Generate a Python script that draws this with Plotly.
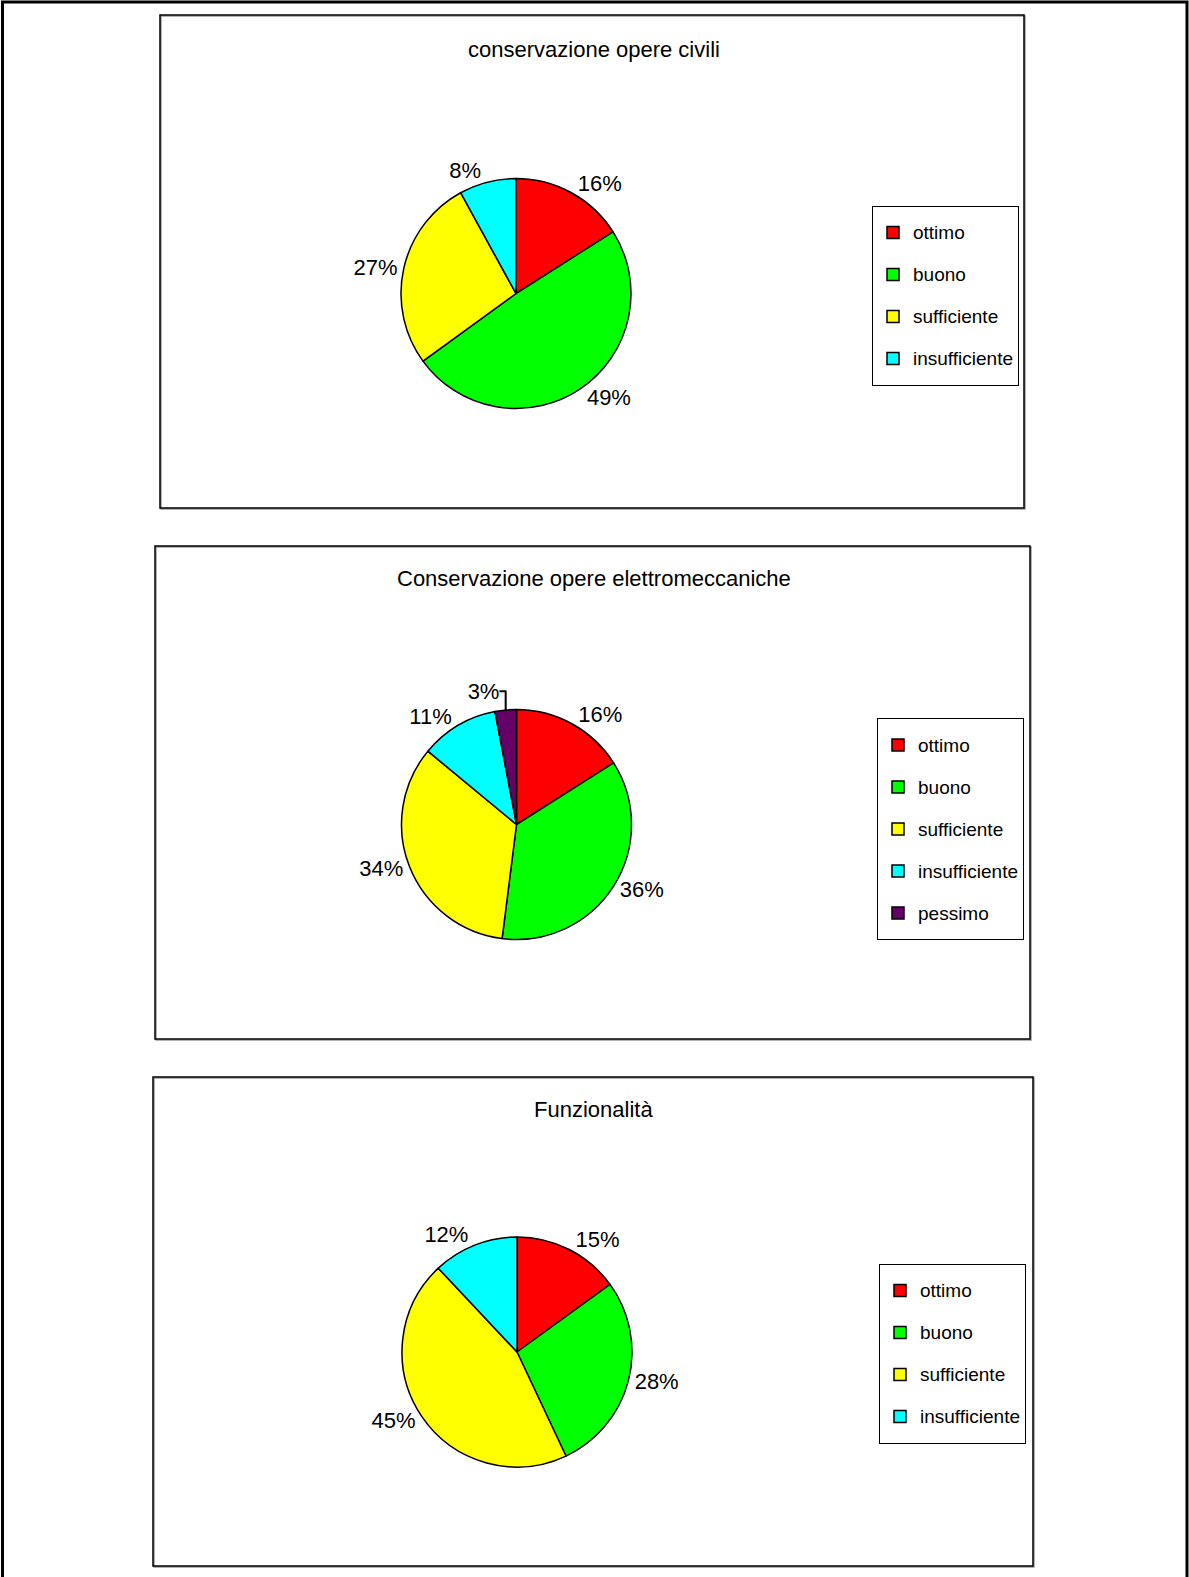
import plotly.graph_objects as go

W, H = 1189, 1577

categories_4 = ["ottimo", "buono", "sufficiente", "insufficiente"]
categories_5 = ["ottimo", "buono", "sufficiente", "insufficiente", "pessimo"]

civili_values = [16, 49, 27, 8]
elettro_values = [16, 36, 34, 11, 3]
funz_values = [15, 28, 45, 12]

titles = ["conservazione opere civili",
          "Conservazione opere elettromeccaniche",
          "Funzionalità"]

colors_5 = ["#FF0000", "#00FF00", "#FFFF00", "#00FFFF", "#660066"]

FONT = "Liberation Sans Narrow, Arial Narrow, Liberation Sans, Arial, sans-serif"


def px_x(x):
    return x / W


def px_y(y):
    return 1 - y / H


def legend_label(c):
    # smaller visible text inside a taller legend row (mimics the wide Excel spacing)
    return '<span style="font-size:19px;baseline-shift:5px">%s</span>' % c


# layout geometry (pixels)
boxes = [(160, 15, 1024, 508), (155, 546, 1030, 1039), (153, 1077, 1033, 1566)]
pie_centers = [(516, 293.5), (516.5, 824.5), (517, 1352)]
pie_r = 115
legend_pos = [(872, 295.5), (877, 829), (879, 1353.5)]
title_pos = [(594, 50), (594, 578), (593, 1109)]

series = [(categories_4, civili_values), (categories_5, elettro_values),
          (categories_4, funz_values)]

fig = go.Figure()
legend_names = ["legend", "legend2", "legend3"]

for i, (cats, vals) in enumerate(series):
    cx, cy = pie_centers[i]
    fig.add_trace(go.Pie(
        labels=[legend_label(c) for c in cats],
        values=vals,
        sort=False,
        direction="clockwise",
        rotation=0,
        textinfo="percent",
        textposition="outside",
        texttemplate="%{percent:.0%}",
        outsidetextfont=dict(family=FONT, size=22, color="black"),
        marker=dict(colors=colors_5[:len(cats)], line=dict(color="black", width=1.5)),
        domain=dict(x=[px_x(cx - pie_r), px_x(cx + pie_r)],
                    y=[px_y(cy + pie_r), px_y(cy - pie_r)]),
        legend=legend_names[i],
        legendgroup="g%d" % i,
        hoverinfo="percent",
    ))

shapes = []
# outer page frame
shapes.append(dict(type="rect", xref="paper", yref="paper",
                   x0=px_x(2.5), x1=px_x(1187), y0=px_y(2), y1=px_y(H + 20),
                   line=dict(color="black", width=3), layer="below"))
for (x0, y0, x1, y1) in boxes:
    shapes.append(dict(type="rect", xref="paper", yref="paper",
                       x0=px_x(x0 + 1), x1=px_x(x1 + 1), y0=px_y(y1 + 1), y1=px_y(y0 + 1),
                       line=dict(color="#999999", width=1.5), layer="below"))
    shapes.append(dict(type="rect", xref="paper", yref="paper",
                       x0=px_x(x0), x1=px_x(x1), y0=px_y(y1), y1=px_y(y0),
                       line=dict(color="black", width=1.5), layer="below"))

annotations = []
for t, (tx, ty) in zip(titles, title_pos):
    annotations.append(dict(text=t, x=px_x(tx), y=px_y(ty), xref="paper", yref="paper",
                            xanchor="center", yanchor="middle", showarrow=False,
                            font=dict(family=FONT, size=22, color="black")))

layout_kwargs = {}
for name, (lx, ly) in zip(legend_names, legend_pos):
    layout_kwargs[name] = dict(
        x=px_x(lx), y=px_y(ly), xanchor="left", yanchor="middle",
        bgcolor="white", bordercolor="black", borderwidth=1,
        font=dict(family=FONT, size=30, color="black"),
        itemclick=False, itemdoubleclick=False,
    )

fig.update_layout(
    width=W, height=H, autosize=False,
    margin=dict(l=0, r=0, t=0, b=0),
    paper_bgcolor="white", plot_bgcolor="white",
    shapes=shapes, annotations=annotations,
    font=dict(family=FONT, color="black"),
    **layout_kwargs,
)

fig.write_html("out.html",
               config={"displayModeBar": False},
               post_script="document.body.style.margin='0';document.body.style.padding='0';")
